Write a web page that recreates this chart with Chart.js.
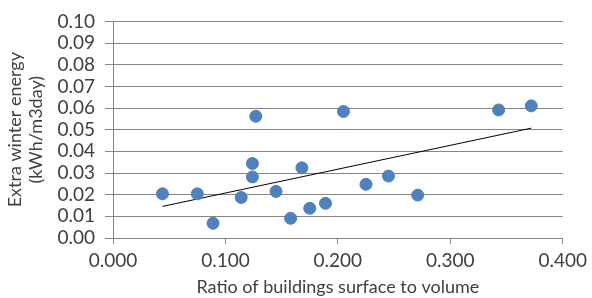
<!DOCTYPE html>
<html>
<head>
<meta charset="utf-8">
<script src="https://cdn.jsdelivr.net/npm/chart.js@4"></script>
<style>
  html, body { margin: 0; padding: 0; background: #fff; }
  #wrap { width: 592px; height: 298px; }
</style>
</head>
<body>
<div id="wrap"><canvas id="myChart" width="592" height="298"></canvas></div>
<script>
// ratio of buildings surface to volume
const ratioValues = [0.044, 0.075, 0.089, 0.114, 0.124, 0.124, 0.127, 0.145, 0.158, 0.168,
                     0.175, 0.189, 0.205, 0.225, 0.245, 0.271, 0.343, 0.372];
// extra winter energy (kWh/m3day)
const energyValues = [0.0204, 0.0204, 0.0068, 0.0187, 0.0344, 0.0282, 0.0562, 0.0215, 0.0091, 0.0324,
                      0.0137, 0.0160, 0.0584, 0.0248, 0.0286, 0.0198, 0.0591, 0.0610];
// linear trend line end points
const trendX = [0.044, 0.372];
const trendY = [0.0146, 0.0507];

const xTicks = [0, 0.1, 0.2, 0.3, 0.4];

const textColor = '#404040';
const fontFamily = 'Lato, "Liberation Sans", sans-serif';

const ctx = document.getElementById('myChart').getContext('2d');
const myChart = new Chart(ctx, {
    type: 'scatter',
    data: {
        datasets: [{
            label: 'Energy',
            data: ratioValues.map((x, i) => ({ x: x, y: energyValues[i] })),
            backgroundColor: '#4F81BD',
            borderColor: '#4F81BD',
            pointRadius: 6,
            pointHoverRadius: 6,
            order: 1
        }, {
            label: 'Trend',
            type: 'line',
            data: trendX.map((x, i) => ({ x: x, y: trendY[i] })),
            borderColor: '#000000',
            borderWidth: 1,
            pointRadius: 0,
            fill: false,
            order: 2
        }]
    },
    options: {
        responsive: false,
        animation: false,
        layout: { padding: { top: 18, right: 29, left: 4, bottom: 0 } },
        plugins: {
            legend: { display: false },
            tooltip: { enabled: false }
        },
        scales: {
            x: {
                type: 'linear',
                min: 0,
                max: 0.4,
                afterBuildTicks: s => { s.ticks = xTicks.map(v => ({ value: v })); },
                afterFit: s => { s.height = 60; },
                grid: {
                    drawOnChartArea: false,
                    color: '#868686',
                    tickLength: 6
                },
                border: { color: '#868686' },
                ticks: {
                    color: textColor,
                    font: { family: fontFamily, size: 19 },
                    padding: 5,
                    maxRotation: 0,
                    autoSkip: false,
                    callback: v => v.toFixed(3)
                },
                title: {
                    display: true,
                    text: 'Ratio of buildings surface to volume',
                    color: textColor,
                    font: { family: fontFamily, size: 18 },
                    padding: 0
                }
            },
            y: {
                min: 0,
                max: 0.1,
                afterFit: s => { s.width = 109; },
                grid: {
                    color: '#868686',
                    tickLength: 8
                },
                border: { color: '#868686' },
                ticks: {
                    stepSize: 0.01,
                    autoSkip: false,
                    color: textColor,
                    font: { family: fontFamily, size: 19 },
                    padding: 10,
                    callback: v => v.toFixed(2)
                },
                title: {
                    display: true,
                    text: ['Extra winter energy', '(kWh/m3day)'],
                    color: textColor,
                    font: { family: fontFamily, size: 18 },
                    padding: 0
                }
            }
        }
    }
});
</script>
</body>
</html>
